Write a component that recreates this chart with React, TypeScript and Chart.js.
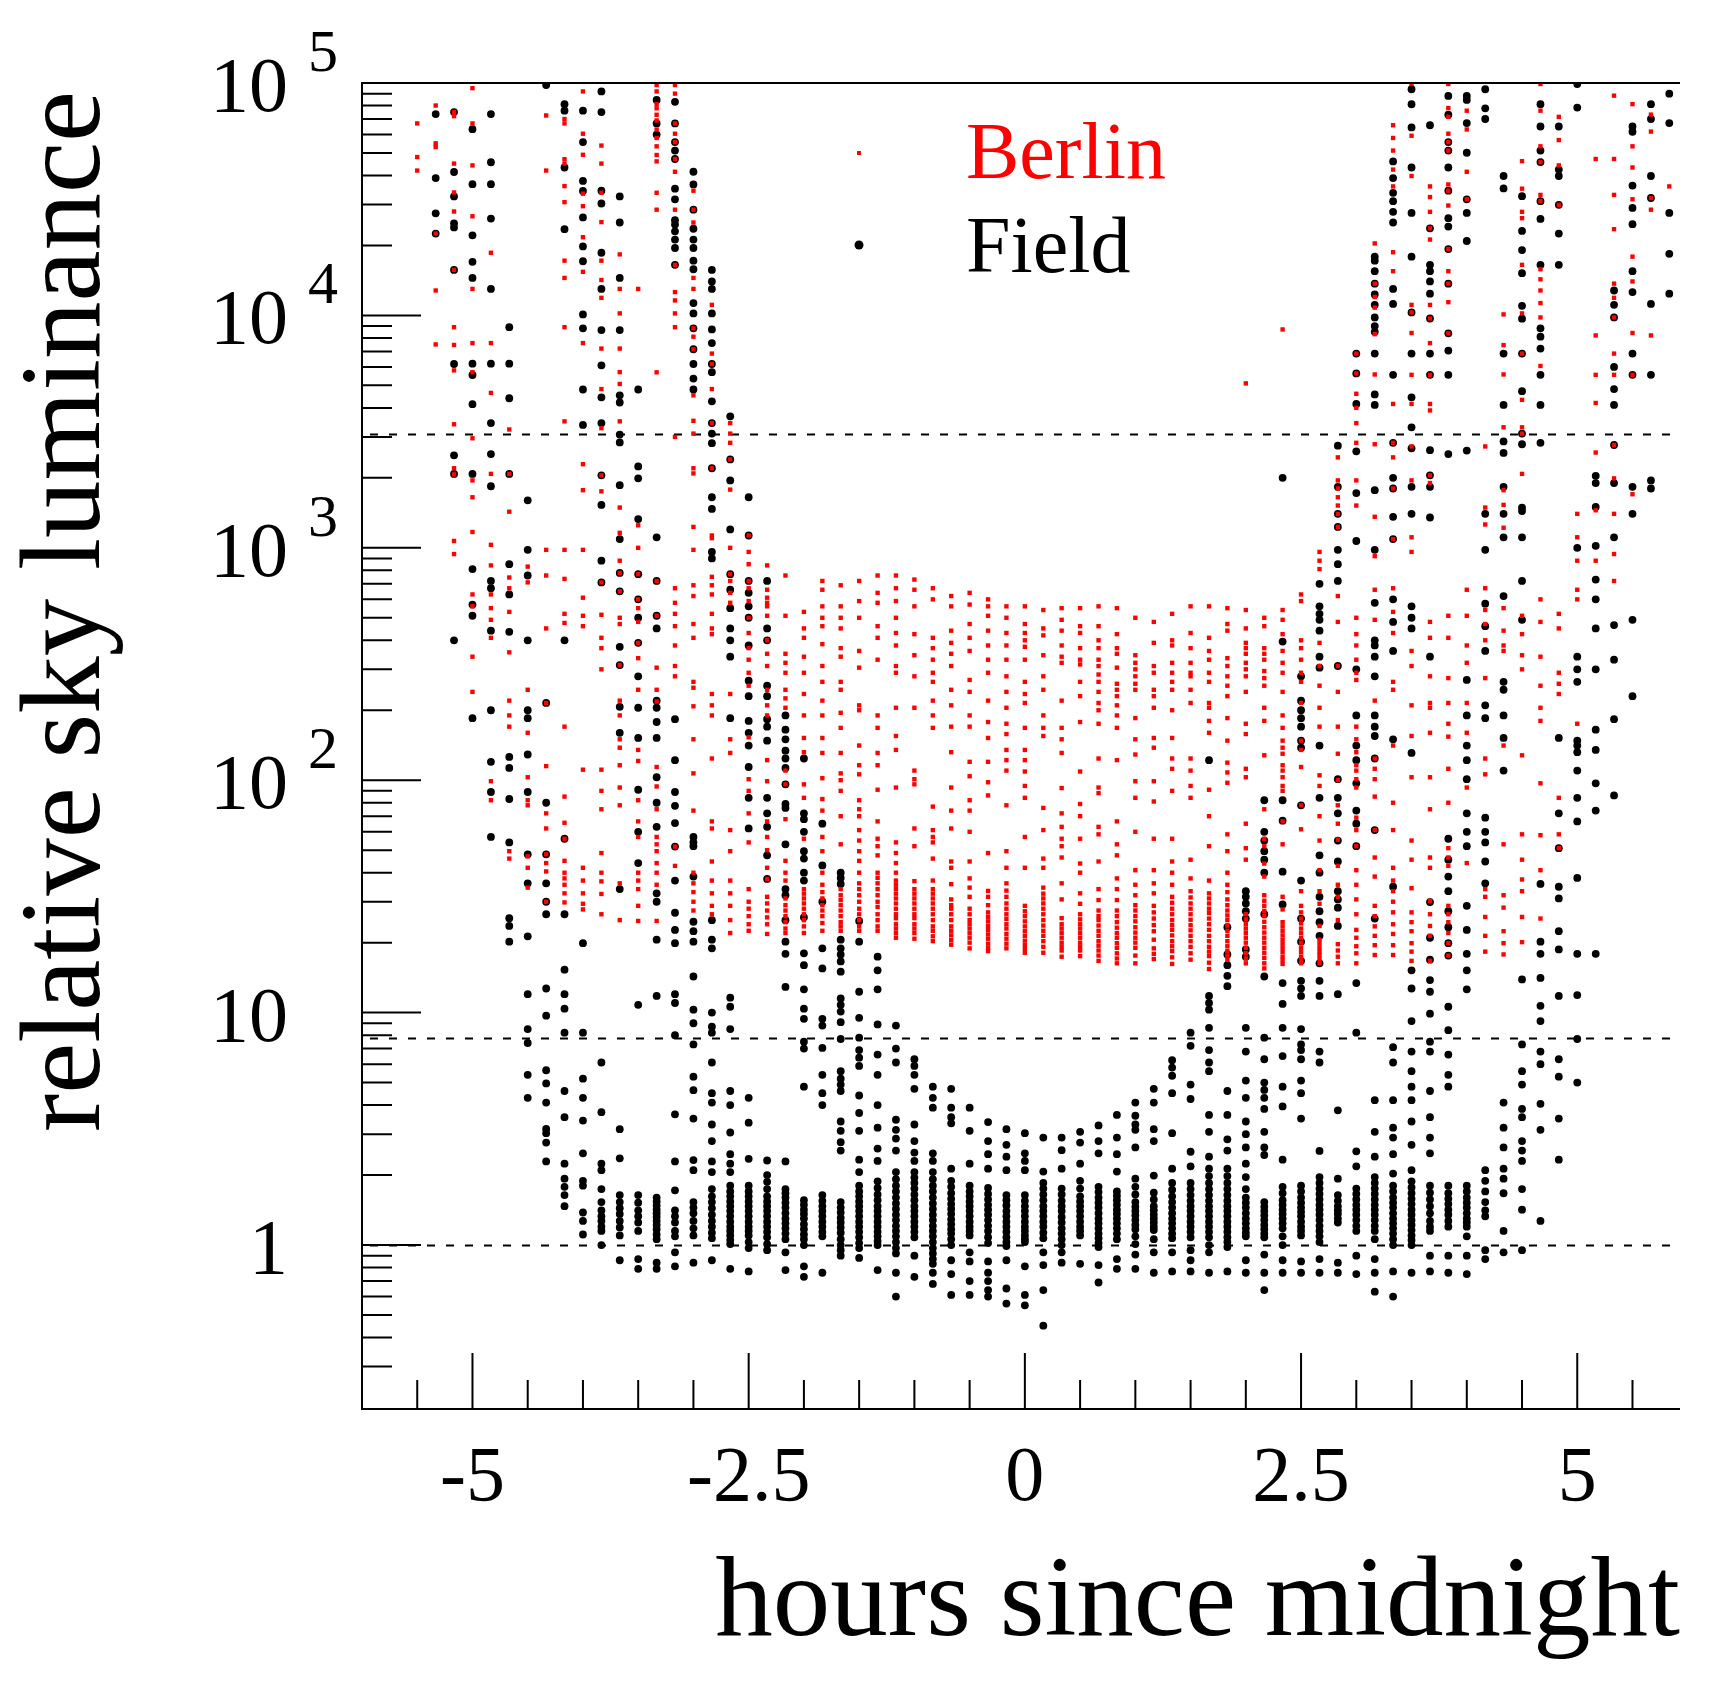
import React, { useEffect, useRef } from "react";
import { Chart, registerables } from "chart.js";

Chart.register(...registerables);

// column times (hours since midnight), one column every 10 minutes
const hours: number[] = [
  -5.833, -5.667, -5.5, -5.333, -5.167, -5, -4.833, -4.667, -4.5, -4.333, -4.167, -4,
  -3.833, -3.667, -3.5, -3.333, -3.167, -3, -2.833, -2.667, -2.5, -2.333, -2.167, -2,
  -1.833, -1.667, -1.5, -1.333, -1.167, -1, -0.833, -0.667, -0.5, -0.333, -0.167, 0,
  0.167, 0.333, 0.5, 0.667, 0.833, 1, 1.167, 1.333, 1.5, 1.667, 1.833, 2,
  2.167, 2.333, 2.5, 2.667, 2.833, 3, 3.167, 3.333, 3.5, 3.667, 3.833, 4,
  4.167, 4.333, 4.5, 4.667, 4.833, 5, 5.167, 5.333, 5.5, 5.667, 5.833,
];

// relative sky luminance values, per column
const berlin: number[][] = [
  [],
  [],
  [67000, 48000, 42000],
  [80000, 55000, 53000, 22500, 12800, 7500],
  [75000, 72000, 45000, 33800, 28000, 15700, 8900, 7460, 5800, 3400, 2200, 2070, 1070, 940],
  [95000, 67000, 44200, 26700, 13000, 7600, 5700, 2960, 1950, 1650, 1170, 630, 560, 340, 240],
  [18600, 7600, 4640, 2080, 1030, 840, 630, 550, 490, 410, 99, 82],
  [3230, 2080, 1430, 745, 670, 530, 355, 220, 190, 170, 49.5, 46],
  [830, 710, 245, 160, 103, 82, 78, 47, 42, 34.5],
  [72500, 42000, 980, 760, 450, 215, 115, 72, 62, 48, 44, 40.5, 30],
  [70000, 67000, 47000, 45000, 36000, 30700, 17200, 14500, 8900, 3500, 980, 735, 520, 475, 170, 85, 65.6, 56, 45, 40, 37.8, 35.5, 32.6, 29.8],
  [92000, 60500, 49100, 33400, 29500, 21700, 15400, 7600, 2290, 1770, 980, 610, 510, 460, 111, 42, 37, 32.6, 29.4, 27.8],
  [53800, 45000, 33700, 25200, 17200, 14200, 11900, 7200, 4820, 3270, 2050, 1750, 710, 515, 410, 370, 300, 111, 90, 75, 48.6, 40, 36.7, 32.4, 26.5],
  [18300, 13000, 10200, 7200, 5700, 5070, 3500, 1490, 1160, 880, 780, 650, 500, 470, 313, 220, 190, 150, 138, 116, 93, 78, 36, 25],
  [13000, 1250, 1000, 770, 600, 550, 480, 390, 335, 245, 135, 121, 82, 66.5, 57, 40, 37, 34, 28.8, 24.8],
  [98000, 92000, 81000, 77800, 73000, 69000, 63000, 58000, 53400, 49000, 46000, 33700, 28500, 5690, 720, 510, 305, 245, 218, 114, 94, 75, 57, 53, 49.5, 44, 40, 35.5, 24.8],
  [98000, 90000, 67000, 60500, 55700, 47100, 41500, 28500, 16500, 12600, 11600, 10200, 8900, 3000, 670, 580, 520, 460, 380, 310, 280, 51.8, 42.8],
  [34400, 28500, 25100, 14500, 13000, 8800, 8100, 7150, 4530, 3520, 3100, 2200, 2090, 1230, 980, 690, 620, 470, 410, 265, 250, 208, 150, 107, 74, 40, 36, 33, 30, 27.5],
  [11100, 6850, 6180, 4820, 3440, 2200, 1130, 1100, 750, 690, 630, 520, 450, 425, 235, 210, 190, 124, 66.5, 62, 44.7, 37, 32.6, 28.8, 26.5],
  [3440, 3100, 2830, 2400, 1780, 1000, 770, 720, 640, 580, 235, 150, 131, 61, 49.5, 37, 32.6, 28.8, 25, 22],
  [1130, 960, 850, 720, 670, 590, 500, 430, 370, 330, 290, 255, 153, 101, 90, 72, 54, 34, 30, 28, 26, 24, 22.5],
  [840, 660, 610, 580, 560, 510, 400, 350, 310, 245, 210, 190, 122, 99, 66.5, 57, 50, 42, 37.6, 31.5, 29.5, 27.5, 25.7, 24, 21.8],
  [760, 510, 350, 320, 290, 245, 225, 205, 110, 96, 68, 45, 40, 37, 31, 29, 27.5, 26, 24.5, 23, 22],
  [530, 450, 410, 340, 290, 235, 190, 152, 132, 96, 84, 56, 34, 32.5, 31, 29.5, 28, 26.5, 25, 23.5, 22],
  [720, 660, 560, 500, 460, 385, 310, 265, 220, 190, 152, 131, 102, 83, 74, 57, 49.5, 40, 35.5, 33, 31, 29, 27.5, 26, 24.3, 22.5],
  [690, 560, 500, 450, 370, 340, 265, 245, 195, 168, 131, 107, 100, 90, 70, 53, 34, 32, 30.5, 29, 27.5, 26, 24.5, 23.5, 22.5],
  [720, 590, 500, 360, 305, 210, 200, 141, 116, 106, 82, 75, 70, 61, 55, 49.5, 45, 40, 36, 34, 32, 30, 28, 26.5, 25, 23.5, 22.5],
  [760, 640, 580, 460, 410, 330, 190, 168, 131, 116, 91, 66.5, 56, 52, 47.5, 40, 38, 36, 34, 32, 30, 28.5, 26.5, 25, 23.5, 22.5],
  [760, 670, 590, 500, 430, 380, 310, 290, 205, 155, 135, 93, 54, 48.6, 44, 40, 37, 35.5, 34, 32.5, 31, 29.5, 28, 26.5, 25.5, 24, 23, 22, 21],
  [730, 660, 560, 425, 345, 280, 205, 110, 101, 96, 62, 52, 36.8, 34, 32.5, 31, 29.5, 28, 26.5, 25.5, 24, 23, 22, 20.8],
  [670, 600, 410, 370, 330, 290, 265, 220, 190, 168, 77, 61, 57, 54, 46, 37, 34, 32.5, 31, 29.5, 28, 26.5, 25, 23.5, 22.5, 21.3, 20.3],
  [620, 560, 440, 390, 350, 310, 245, 210, 170, 132, 93, 74, 62, 44.7, 42, 35.7, 30.7, 29, 28, 26.5, 25, 23.5, 22.5, 21.5, 20.5, 19.6],
  [640, 570, 470, 410, 360, 270, 240, 190, 170, 120, 104, 82, 74, 60, 44.7, 37.8, 34.5, 31.5, 28, 26.5, 25, 24, 23, 22, 21, 20, 18.9],
  [600, 560, 510, 440, 380, 330, 290, 220, 178, 152, 120, 98, 86, 48.6, 33.4, 31.5, 29, 27, 25.8, 24.7, 23.6, 22.7, 21.7, 20.8, 19.8, 19, 18.4],
  [560, 500, 430, 380, 330, 280, 240, 205, 175, 158, 135, 122, 110, 78, 49.5, 42, 36, 33.5, 31.5, 29.5, 28, 26.5, 25.3, 24, 23, 21.8, 20.8, 19.8, 18.9],
  [560, 470, 430, 400, 375, 330, 265, 235, 215, 168, 135, 122, 109, 94.5, 84, 57, 42, 28.8, 27.3, 26, 24.7, 23.5, 22.4, 21.4, 20.4, 19.5, 18.8, 18.1],
  [540, 450, 420, 345, 280, 245, 190, 168, 155, 76, 61, 46, 42, 34.5, 32.5, 31, 29.5, 28, 26.5, 25, 23.7, 22.5, 21.4, 20.3, 19.2, 18.1],
  [550, 490, 440, 380, 340, 320, 220, 168, 150, 131, 92.5, 72, 63, 56, 52, 46.5, 36, 30.7, 25.5, 24, 23, 22, 21, 20, 19.2, 18.5, 17.4],
  [550, 460, 430, 370, 330, 315, 265, 230, 178, 109, 79, 70, 56, 43.8, 40, 32.6, 29.4, 26.5, 25.2, 24, 23, 22, 21, 20, 19.2, 18.5, 17.5],
  [560, 460, 400, 370, 330, 310, 285, 265, 240, 215, 200, 175, 124, 93, 88, 63, 58.5, 44.7, 34, 30.5, 27.5, 26, 25, 23.7, 22.5, 21.4, 20.3, 19.4, 18.5, 17.6, 16.7],
  [550, 425, 370, 350, 305, 260, 245, 230, 210, 190, 168, 122, 66.5, 53, 47.5, 37.8, 34, 30.5, 27.5, 26, 24.5, 23.2, 22, 21, 19.9, 19, 18, 17.1, 16.3],
  [500, 345, 320, 300, 280, 260, 245, 185, 150, 129, 99, 84, 60, 41, 35.5, 32, 29, 27.5, 26, 24.7, 23.3, 22.1, 21, 20, 19, 17.6, 16.3],
  [480, 390, 310, 290, 245, 230, 205, 152, 138, 99, 81, 56, 41, 36, 32.6, 28.8, 27, 25.4, 23.8, 22.4, 20.6, 18.9, 17.9, 17],
  [520, 400, 380, 320, 290, 265, 245, 200, 152, 124, 112, 90, 56, 44.7, 40, 35.5, 31.5, 29.7, 28, 26.5, 25, 23.8, 22.7, 21.5, 20.3, 19.3, 18.4, 17.3, 16.2],
  [560, 430, 370, 320, 290, 280, 245, 215, 124, 110, 94.5, 84, 45.5, 37.8, 33.3, 31.3, 29.5, 28, 26.5, 25.1, 23.8, 22.6, 21.4, 20.3, 19.2, 18, 16.9],
  [560, 410, 360, 330, 290, 265, 215, 205, 180, 160, 91, 70, 52, 37, 32.6, 31, 29.5, 28, 26.8, 25.4, 24, 22.7, 21.4, 20.3, 19.2, 18.3, 17.5, 16.4, 15.4],
  [550, 470, 440, 335, 310, 280, 255, 230, 185, 148, 119, 108, 97.5, 58.5, 49.5, 40, 35.5, 33, 30.7, 29, 27.5, 26.2, 25, 23.7, 22.5, 21.4, 20.3, 19.3, 18.4, 17.6, 16.9],
  [5100, 540, 450, 390, 370, 350, 320, 300, 280, 240, 175, 158, 112, 103, 65, 51, 45.5, 26.5, 25.2, 24, 23, 22, 21, 20, 19, 18, 17.1, 16.3],
  [500, 460, 370, 350, 330, 295, 275, 255, 205, 180, 128, 75, 56, 52, 43.8, 38.5, 32, 30.3, 28.8, 27.4, 26, 24.6, 23.3, 22.1, 21, 20, 19, 18.1, 17.2, 16.3, 15.5],
  [8700, 540, 490, 425, 360, 320, 290, 240, 190, 168, 148, 138, 130, 116, 110, 103, 94.5, 90, 66.5, 53, 31.5, 27.8, 24.5, 23.5, 22.5, 21.5, 20.6, 19.8, 19, 18.2, 17.4, 16.8, 16.2],
  [630, 590, 400, 370, 330, 290, 265, 215, 148, 135, 114, 78, 61.5, 33.3, 28.8, 27, 25.4, 24.2, 23, 22, 21, 20, 19, 18.2, 17.4, 16.8, 16.3],
  [960, 880, 810, 390, 310, 255, 205, 170, 105, 94.5, 70, 55, 41, 33.3, 29.4, 23.6, 20.6, 19.8, 19, 18.3, 17.7, 17, 16.3],
  [2450, 1950, 1800, 1650, 1520, 1400, 1230, 620, 480, 310, 240, 170, 130, 100, 78, 65, 55.5, 42.8, 35.5, 31.5, 25, 19.7, 18.5, 17.4, 16.3],
  [6850, 5630, 4600, 4000, 3440, 2830, 1950, 1520, 500, 425, 380, 330, 290, 270, 170, 150, 132, 116, 110, 101, 93, 69, 61, 52, 41, 35.5, 30.7, 26.5, 22.7, 21, 19.3, 18, 16.3],
  [20400, 13700, 12000, 10800, 8300, 5570, 2790, 1360, 920, 660, 490, 220, 124, 112, 101, 85, 61, 46.5, 38.5, 28.8, 26, 23.5, 21.4, 19.5, 17.7],
  [65800, 58000, 51200, 42400, 35900, 18700, 15500, 4160, 2830, 2450, 1800, 1090, 670, 530, 430, 265, 245, 141, 80, 61, 42, 37, 33.3, 30, 27, 24, 21.8, 19.5, 17.7],
  [99000, 59300, 39800, 11100, 10300, 8400, 5550, 4160, 2730, 1950, 1110, 960, 360, 310, 210, 155, 103, 55, 45.5, 34.3, 27, 24.5, 22.4, 19.9, 18.3, 16.7],
  [35900, 32300, 27900, 23700, 21200, 11100, 9700, 7600, 5550, 4160, 3900, 2050, 1900, 480, 410, 280, 215, 205, 160, 103, 75, 46.5, 42, 30.3, 26.5, 23.6, 21.4, 16.7],
  [99000, 78000, 71500, 60500, 55700, 51200, 36600, 34400, 29700, 19300, 15500, 13700, 11400, 8370, 510, 410, 275, 215, 175, 154, 112, 80, 51, 46.5, 42.8, 28.8, 26.5, 24.5, 22, 19.9, 17.6],
  [76000, 63100, 41500, 31600, 660, 510, 380, 320, 215, 160, 93, 44],
  [2730, 1490, 1260, 670, 540, 470, 400, 275, 124, 106, 34, 31.5, 25.8, 21.4, 18.3],
  [10100, 7450, 5570, 3300, 1770, 1530, 1220, 550, 440, 380, 360, 141, 53, 32, 28.3, 22.4, 19.9, 17.8],
  [46100, 35100, 27900, 26200, 16500, 10200, 6850, 4330, 3300, 3100, 2080, 510, 425, 345, 300, 128, 58.5, 45.5, 37.4, 33.3, 25.8, 20.1],
  [99000, 76000, 53400, 45700, 33000, 31000, 15800, 14300, 12800, 11300, 9800, 6060, 600, 480, 340, 255, 205, 180, 97, 58, 41, 25.4],
  [71500, 56800, 44200, 29900, 520, 450, 290, 260, 235, 84, 58.5, 51],
  [1400, 1110, 880, 660, 600, 175],
  [47100, 8200, 5550, 4200, 2570, 1450, 880],
  [88200, 47100, 33000, 23500, 13700, 11900, 9800, 6850, 5550, 2770, 1990, 1400, 940, 720],
  [81100, 53400, 43300, 31600, 17900, 14000, 8400, 5550, 1700],
  [73100, 61800, 32000, 28500, 8200],
  [35900],
];

const field: number[][] = [
  [],
  [],
  [],
  [73500, 39000, 27500, 22500],
  [75000, 41400, 32500, 24900, 23900, 15700, 6180, 2500, 2080, 400],
  [63300, 36700, 22100, 17000, 14500, 6200, 5540, 4150, 2080, 810, 570, 510, 185],
  [73500, 45600, 36700, 26100, 13000, 6200, 3440, 2530, 1840, 720, 670, 440, 200, 120, 89, 57],
  [8900, 6200, 4400, 2080, 850, 630, 435, 126, 113, 83, 54, 25.5, 23.6, 20.2],
  [1600, 980, 760, 400, 200, 185, 129, 89, 48, 36, 21.3, 12, 8.5, 7.4, 5.4, 4.3],
  [98000, 215, 80, 48, 36, 30, 26.5, 12.7, 9.7, 5.65, 4.96, 4.1, 3.16, 3.03, 2.76, 2.29],
  [81000, 76000, 43300, 23500, 400, 56, 26.5, 15.3, 12, 10.4, 8.2, 4.6, 3.55, 2.24, 1.93, 1.78, 1.64, 1.47],
  [76000, 55700, 37900, 34300, 26400, 19800, 17100, 10100, 8800, 4800, 3380, 19.9, 8.2, 5.2, 4.3, 3.43, 2.48, 1.89, 1.8, 1.38, 1.27, 1.11],
  [92000, 75000, 34400, 30300, 18600, 13000, 8650, 6100, 4440, 3440, 2050, 1530, 880, 710, 6.1, 3.73, 2.24, 2.1, 1.74, 1.53, 1.41, 1.33, 1.27, 1.2, 1.15, 1.0],
  [32500, 25100, 14500, 8650, 4530, 4220, 3070, 2840, 1860, 1090, 780, 650, 375, 313, 207, 160, 34, 3.15, 2.36, 1.64, 1.53, 1.44, 1.36, 1.27, 1.19, 1.1, 0.86],
  [4800, 2240, 1990, 1330, 770, 600, 500, 390, 280, 205, 152, 91, 60, 44, 10.8, 1.64, 1.52, 1.41, 1.33, 1.25, 1.15, 0.87, 0.79],
  [84600, 67000, 60000, 1110, 720, 510, 450, 220, 205, 178, 152, 103, 80, 63, 32.6, 30, 20.6, 11.8, 1.6, 1.54, 1.48, 1.42, 1.37, 1.32, 1.27, 1.22, 1.17, 1.11, 1.06, 0.84, 0.79],
  [83000, 67000, 55700, 51200, 47100, 35100, 31600, 25700, 24600, 23000, 21200, 19500, 16500, 183, 122, 89, 77.6, 65.4, 51.8, 37, 26.9, 22.7, 19.9, 12, 11, 8.0, 3.65, 2.29, 1.72, 1.41, 1.33, 1.25, 1.15, 1.09, 0.93, 0.81],
  [41500, 36600, 28500, 23600, 21200, 19500, 17200, 15800, 11300, 10200, 8800, 7150, 6180, 5350, 4800, 57, 54, 52, 38.5, 24.6, 22.4, 20.2, 14.3, 10.3, 9.0, 7.3, 5.3, 4.64, 3.5, 2.32, 2.1, 1.53, 1.45, 1.37, 1.27, 1.18, 1.1, 0.84],
  [15700, 14000, 13000, 10200, 8700, 7600, 6180, 5700, 4270, 3440, 3100, 2820, 2200, 1650, 1470, 960, 900, 25, 20.6, 18.9, 10, 8.7, 8.2, 6.1, 4.5, 4.1, 3.3, 2.8, 2.29, 2.06, 1.74, 1.62, 1.53, 1.44, 1.35, 1.27, 1.2, 1.13, 1.07, 0.86],
  [3680, 2400, 1950, 1200, 770, 660, 550, 450, 400, 340, 185, 11.6, 10.6, 8.5, 4.6, 4.0, 3.05, 2.46, 2.24, 2.06, 1.8, 1.7, 1.62, 1.54, 1.47, 1.4, 1.33, 1.26, 1.2, 1.15, 1.1, 1.05, 1.01, 0.79],
  [1650, 1130, 720, 640, 560, 500, 380, 268, 230, 180, 160, 141, 114, 84, 62, 4.3, 3.36, 2.35, 1.8, 1.7, 1.62, 1.54, 1.47, 1.4, 1.33, 1.26, 1.2, 1.15, 1.1, 1.03, 0.97, 0.77],
  [720, 450, 400, 255, 230, 183, 170, 148, 84, 72, 63, 47.5, 37.6, 2.31, 2.0, 1.87, 1.74, 1.62, 1.54, 1.47, 1.4, 1.33, 1.26, 1.2, 1.14, 1.08, 1.01, 0.95],
  [190, 165, 150, 134, 124, 113, 96, 79, 76, 53, 34, 32, 25, 20.2, 17.9, 12.9, 2.29, 1.74, 1.67, 1.6, 1.52, 1.45, 1.37, 1.3, 1.24, 1.18, 1.12, 1.06, 0.93, 0.78],
  [124, 72, 68, 60, 49.5, 46, 40, 37, 25.7, 18, 16, 12.6, 10.4, 9.4, 7.5, 7.0, 4.8, 1.56, 1.49, 1.42, 1.36, 1.3, 1.23, 1.17, 1.11, 1.06, 1.0, 0.81, 0.73],
  [65, 43, 30, 18.9, 15.5, 9.4, 8.8, 7.05, 5.4, 4.5, 4.0, 1.64, 1.55, 1.47, 1.4, 1.33, 1.26, 1.2, 1.14, 1.09, 0.76],
  [40, 38, 35.8, 20.6, 18.9, 17.8, 16.6, 15, 11.5, 10.8, 10.1, 9.1, 7.7, 5.6, 5.2, 4.9, 4.6, 3.4, 3.1, 2.77, 2.55, 1.53, 1.45, 1.38, 1.31, 1.25, 1.19, 1.13, 1.06, 1.0, 0.95, 0.9],
  [24.8, 20.2, 12.3, 9.5, 7.8, 6.9, 6.4, 5.9, 4.4, 3.7, 3.1, 2.33, 2.06, 1.8, 1.7, 1.62, 1.54, 1.47, 1.4, 1.33, 1.26, 1.2, 1.14, 1.08, 1.02, 0.97, 0.88],
  [17.4, 15.2, 12.6, 8.9, 6.6, 5.4, 4.0, 3.2, 2.6, 2.3, 1.88, 1.76, 1.65, 1.56, 1.47, 1.4, 1.33, 1.26, 1.2, 1.14, 1.09, 1.04, 1.0, 0.78],
  [8.8, 7.0, 6.1, 3.46, 3.13, 2.87, 2.55, 2.06, 1.92, 1.8, 1.7, 1.6, 1.51, 1.43, 1.35, 1.28, 1.21, 1.15, 1.09, 1.03, 0.97, 0.92, 0.76, 0.6],
  [6.3, 5.9, 5.4, 4.7, 3.3, 2.8, 2.5, 2.3, 2.06, 1.95, 1.85, 1.75, 1.65, 1.56, 1.47, 1.4, 1.33, 1.26, 1.2, 1.14, 1.08, 0.9, 0.73],
  [4.8, 4.3, 3.9, 2.48, 2.3, 2.06, 1.92, 1.8, 1.7, 1.6, 1.51, 1.43, 1.35, 1.28, 1.21, 1.15, 1.09, 1.03, 0.97, 0.92, 0.87, 0.83, 0.76, 0.68],
  [4.7, 3.9, 3.55, 3.34, 2.13, 1.89, 1.78, 1.67, 1.58, 1.5, 1.43, 1.36, 1.29, 1.23, 1.17, 1.12, 1.06, 1.0, 0.86, 0.75, 0.61],
  [3.9, 3.1, 2.24, 1.8, 1.7, 1.62, 1.54, 1.47, 1.4, 1.33, 1.26, 1.2, 1.15, 1.1, 0.93, 0.85, 0.7, 0.61],
  [3.38, 2.8, 2.46, 2.13, 1.76, 1.66, 1.57, 1.49, 1.42, 1.35, 1.28, 1.21, 1.15, 1.08, 1.02, 0.85, 0.76, 0.7, 0.64, 0.6],
  [3.15, 2.7, 2.4, 2.1, 1.64, 1.56, 1.48, 1.4, 1.33, 1.26, 1.2, 1.14, 1.08, 1.03, 0.99, 0.86, 0.65, 0.56],
  [3.03, 2.48, 2.3, 2.1, 1.64, 1.55, 1.47, 1.4, 1.33, 1.26, 1.2, 1.15, 1.1, 1.06, 1.03, 0.81, 0.61, 0.55],
  [2.9, 2.07, 1.85, 1.75, 1.65, 1.56, 1.47, 1.4, 1.33, 1.26, 1.2, 1.13, 1.07, 0.93, 0.82, 0.64, 0.45],
  [2.9, 2.56, 2.13, 1.75, 1.65, 1.55, 1.47, 1.4, 1.32, 1.25, 1.18, 1.12, 1.06, 1.0, 0.93, 0.84],
  [3.07, 2.76, 2.24, 1.89, 1.75, 1.62, 1.54, 1.47, 1.4, 1.33, 1.26, 1.2, 1.15, 1.1, 0.83],
  [3.27, 2.8, 2.48, 1.78, 1.69, 1.6, 1.52, 1.45, 1.37, 1.3, 1.24, 1.18, 1.12, 1.07, 1.02, 0.98, 0.82, 0.69],
  [3.63, 2.9, 2.46, 2.07, 1.7, 1.63, 1.56, 1.49, 1.42, 1.36, 1.3, 1.24, 1.18, 1.12, 1.06, 0.87, 0.79],
  [4.1, 3.6, 3.3, 3.13, 2.63, 1.93, 1.78, 1.65, 1.53, 1.46, 1.4, 1.34, 1.28, 1.22, 1.17, 1.09, 1.01, 0.91, 0.79],
  [4.7, 4.1, 3.15, 2.8, 1.99, 1.68, 1.57, 1.47, 1.41, 1.35, 1.3, 1.25, 1.2, 1.16, 1.06, 0.93, 0.76],
  [6.24, 5.8, 5.35, 4.5, 3.03, 2.13, 1.85, 1.73, 1.62, 1.53, 1.45, 1.37, 1.3, 1.24, 1.18, 1.12, 1.07, 0.93, 0.77],
  [8.2, 7.2, 4.9, 4.25, 2.52, 2.18, 1.85, 1.74, 1.64, 1.55, 1.47, 1.4, 1.33, 1.26, 1.2, 1.14, 1.08, 0.95, 0.86, 0.77],
  [122, 11.8, 11, 10.3, 8.6, 6.9, 6.1, 5.6, 3.63, 3.07, 2.4, 2.13, 1.98, 1.85, 1.74, 1.64, 1.55, 1.47, 1.4, 1.33, 1.26, 1.2, 1.14, 1.08, 1.0, 0.93, 0.76],
  [23.3, 17.8, 16, 14.4, 13, 4.6, 3.63, 2.85, 2.55, 2.13, 1.98, 1.85, 1.74, 1.64, 1.55, 1.47, 1.4, 1.33, 1.26, 1.2, 1.14, 1.08, 1.03, 0.98, 0.77],
  [33.3, 31.5, 29.5, 27.3, 25.4, 18.7, 17.4, 8.6, 6.8, 5.1, 4.3, 3.4, 3.0, 2.63, 2.24, 1.96, 1.74, 1.6, 1.52, 1.45, 1.37, 1.3, 1.24, 1.18, 1.13, 1.09, 0.86, 0.76],
  [82, 60, 55, 49.5, 45.5, 40, 26.5, 14.3, 7.8, 6.3, 5.0, 4.65, 4.3, 3.85, 3.07, 2.63, 2.44, 1.53, 1.46, 1.4, 1.34, 1.28, 1.22, 1.17, 1.12, 1.08, 0.91, 0.76, 0.64],
  [2000, 395, 82, 67, 40.4, 29.2, 13.4, 10.9, 8.6, 6.5, 4.8, 3.95, 2.33, 1.78, 1.67, 1.56, 1.49, 1.42, 1.36, 1.3, 1.24, 1.18, 1.09, 1.0, 0.86, 0.76],
  [280, 220, 200, 185, 170, 148, 138, 78, 37, 25.4, 20.2, 16.7, 13.7, 12.7, 11.8, 8.5, 7.3, 6.9, 6.3, 5.1, 4.5, 3.5, 1.8, 1.7, 1.6, 1.52, 1.45, 1.39, 1.33, 1.26, 1.2, 1.15, 1.1, 0.85, 0.76],
  [700, 560, 520, 490, 440, 340, 305, 141, 84, 47.5, 40, 31.5, 27.3, 24.5, 21.4, 16.3, 13.7, 11.8, 6.8, 6.1, 2.54, 1.96, 1.85, 1.75, 1.66, 1.57, 1.49, 1.42, 1.35, 1.28, 1.21, 1.15, 1.09, 1.03, 0.87, 0.76],
  [2750, 1830, 1400, 1230, 980, 850, 720, 310, 101, 84, 72, 55, 44.7, 33.3, 30.7, 28.3, 23.6, 12, 3.8, 1.93, 1.64, 1.55, 1.47, 1.41, 1.36, 1.3, 1.25, 0.84, 0.76],
  [6850, 5630, 4160, 2600, 1720, 1070, 300, 190, 141, 122, 97, 74, 65, 52, 13.4, 8.2, 2.53, 2.18, 1.75, 1.66, 1.57, 1.49, 1.42, 1.35, 1.28, 1.21, 1.15, 0.9, 0.75],
  [17900, 17200, 15500, 13700, 12300, 11100, 9800, 9000, 8500, 6850, 4570, 4120, 1770, 980, 580, 400, 380, 340, 280, 190, 170, 155, 124, 61, 25.4, 4.2, 3.07, 2.4, 1.96, 1.85, 1.75, 1.66, 1.57, 1.49, 1.42, 1.35, 1.28, 1.21, 1.15, 1.06, 0.87, 0.76, 0.63],
  [46000, 39000, 33700, 31000, 27900, 25100, 13000, 11200, 5550, 2830, 2000, 1800, 1360, 1090, 600, 480, 360, 150, 34.8, 7.1, 6.1, 4.2, 3.2, 2.9, 2.46, 2.03, 1.8, 1.7, 1.6, 1.52, 1.45, 1.37, 1.3, 1.24, 1.18, 1.12, 1.06, 1.0, 0.77, 0.6],
  [94000, 81000, 64400, 43300, 27600, 17900, 10300, 6850, 4440, 3300, 2680, 1830, 1400, 560, 500, 450, 131, 15.2, 12.7, 9.2, 6.8, 5.6, 4.8, 4.2, 3.4, 2.7, 2.1, 1.88, 1.77, 1.67, 1.58, 1.5, 1.42, 1.35, 1.28, 1.22, 1.16, 1.1, 1.05, 1.0, 0.76],
  [65800, 23700, 16500, 15500, 14000, 12400, 9700, 6850, 5550, 2630, 2050, 1830, 1350, 340, 29.9, 21, 16.9, 13.8, 12.3, 9.9, 7.5, 6.8, 4.6, 3.55, 2.9, 2.48, 1.8, 1.68, 1.57, 1.47, 1.37, 1.27, 1.2, 1.15, 0.9, 0.77],
  [88000, 73000, 55700, 51200, 43300, 34400, 26200, 24100, 19300, 13700, 8370, 7060, 5550, 2530, 56, 45.5, 38.5, 33.3, 27.3, 23.3, 19.9, 17.6, 10.6, 8.4, 6.6, 5.4, 4.8, 1.8, 1.67, 1.58, 1.5, 1.42, 1.35, 1.27, 1.2, 0.9, 0.76],
  [88000, 84600, 67200, 50100, 31600, 27600, 20900, 2620, 270, 190, 141, 122, 101, 72, 60, 52, 28.8, 22.7, 17.9, 15.2, 12.6, 1.8, 1.7, 1.6, 1.52, 1.45, 1.37, 1.3, 1.25, 1.2, 1.09, 0.9, 0.75],
  [94000, 77800, 70000, 1400, 980, 575, 460, 360, 210, 185, 69, 60, 54, 44.7, 36, 2.1, 1.89, 1.7, 1.53, 1.41, 1.33, 0.95, 0.87],
  [39800, 35200, 6850, 4120, 2870, 2560, 1830, 1400, 1110, 620, 265, 245, 190, 152, 110, 4.1, 3.2, 2.63, 2.13, 1.93, 1.67, 1.15, 0.93],
  [32600, 23100, 19100, 15200, 11000, 9680, 6850, 4720, 3100, 2790, 1490, 1440, 1110, 720, 490, 13.9, 7.3, 5.6, 4.9, 3.85, 3.55, 2.8, 2.55, 2.3, 1.74, 1.42, 0.95],
  [81000, 65000, 51200, 45700, 31000, 26000, 16500, 8800, 8100, 7200, 5550, 4120, 2830, 35.8, 20.2, 17.9, 14.1, 10.7, 9.2, 6.8, 6.0, 4.05, 3.13, 1.27],
  [65000, 42400, 39800, 29900, 22500, 16500, 152, 72, 51, 34.8, 31, 22.4, 18.7, 11.8, 6.3, 5.3, 3.5, 2.33],
  [99000, 78400, 1000, 340, 300, 265, 148, 141, 132, 110, 84, 66.5, 38, 17.9, 11.9, 7.7, 5.0],
  [2040, 1900, 1500, 1020, 730, 600, 450, 300, 165, 135, 97, 74, 17.9],
  [12800, 11100, 9800, 6000, 4820, 4120, 2770, 1900, 1110, 465, 330, 183, 86],
  [65000, 61700, 36200, 29000, 24700, 15500, 12600, 6850, 5550, 1830, 1400, 490, 230],
  [81100, 70000, 39800, 32000, 11200, 5550, 1950, 1800],
  [90000, 67200, 27600, 18400, 12400],
];

const dashedLevels = [3100, 7.8, 1];
const xMajor = [-5, -2.5, 0, 2.5, 5];
const xLabels = ["-5", "-2.5", "0", "2.5", "5"];
const xMinor = [-5.5, -4.5, -4, -3.5, -3, -2, -1.5, -1, -0.5, 0.5, 1, 1.5, 2, 3, 3.5, 4, 4.5, 5.5];
const yDecades = [0, 1, 2, 3, 4, 5];
const seriesNames = ["Berlin", "Field"];

const SERIF = '"Liberation Serif", "DejaVu Serif", serif';

function toPoints(cols: number[][]) {
  const pts: { x: number; y: number }[] = [];
  cols.forEach((ys, i) => ys.forEach((y) => pts.push({ x: hours[i], y })));
  return pts;
}

const decorations = {
  id: "decorations",
  beforeDatasetsDraw(chart: any) {
    const { ctx, chartArea: a, scales } = chart;
    const y = scales.y;
    ctx.save();
    ctx.strokeStyle = "#000";
    ctx.lineWidth = 1.8;
    ctx.setLineDash([8, 11]);
    for (const v of dashedLevels) {
      const py = Math.round(y.getPixelForValue(v)) + 0.5;
      ctx.beginPath();
      ctx.moveTo(a.left + 8, py);
      ctx.lineTo(a.right, py);
      ctx.stroke();
    }
    ctx.restore();
  },
  afterDraw(chart: any) {
    const { ctx, chartArea: a, scales } = chart;
    const x = scales.x;
    const y = scales.y;
    ctx.save();
    ctx.setLineDash([]);
    ctx.strokeStyle = "#000";
    ctx.lineWidth = 2;
    // frame
    ctx.beginPath();
    ctx.moveTo(a.right, a.top);
    ctx.lineTo(a.left, a.top);
    ctx.lineTo(a.left, a.bottom);
    ctx.lineTo(a.right, a.bottom);
    ctx.stroke();
    // y ticks
    ctx.beginPath();
    for (const e of yDecades) {
      const py = y.getPixelForValue(Math.pow(10, e));
      ctx.moveTo(a.left, py);
      ctx.lineTo(a.left + 59, py);
    }
    for (let e = -1; e <= 4; e++) {
      for (let m = 2; m <= 9; m++) {
        const v = m * Math.pow(10, e);
        if (v < y.min || v > y.max) continue;
        const py = y.getPixelForValue(v);
        if (py > a.bottom - 8) continue;
        ctx.moveTo(a.left, py);
        ctx.lineTo(a.left + 30, py);
      }
    }
    // x ticks
    for (const v of xMajor) {
      const px = x.getPixelForValue(v);
      ctx.moveTo(px, a.bottom);
      ctx.lineTo(px, a.bottom - 56);
    }
    for (const v of xMinor) {
      const px = x.getPixelForValue(v);
      ctx.moveTo(px, a.bottom);
      ctx.lineTo(px, a.bottom - 29);
    }
    ctx.stroke();

    // tick labels
    ctx.fillStyle = "#000";
    ctx.textBaseline = "alphabetic";
    ctx.font = `78px ${SERIF}`;
    ctx.textAlign = "center";
    xMajor.forEach((v, i) => {
      ctx.fillText(xLabels[i], x.getPixelForValue(v), a.bottom + 91);
    });
    for (const e of yDecades) {
      const py = y.getPixelForValue(Math.pow(10, e));
      ctx.font = `78px ${SERIF}`;
      ctx.textAlign = "right";
      ctx.fillText(e === 0 ? "1" : "10", a.left - 74, py + 28);
      if (e >= 2) {
        ctx.font = `60px ${SERIF}`;
        ctx.textAlign = "left";
        ctx.fillText(String(e), a.left - 54, py - 12);
      }
    }

    // axis titles
    ctx.font = `115px ${SERIF}`;
    ctx.textAlign = "right";
    ctx.fillText("hours since midnight", a.right, a.bottom + 226);
    ctx.save();
    ctx.translate(a.left - 263, a.top + 1049);
    ctx.rotate(-Math.PI / 2);
    ctx.textAlign = "left";
    ctx.fillText("relative sky luminance", 0, 0);
    ctx.restore();

    // legend
    ctx.fillStyle = "#ff0000";
    ctx.fillRect(857, 151, 4, 4);
    ctx.font = `80px ${SERIF}`;
    ctx.textAlign = "left";
    ctx.fillText(seriesNames[0], 966, 178);
    ctx.fillStyle = "#000";
    ctx.beginPath();
    ctx.arc(859, 245, 4.5, 0, Math.PI * 2);
    ctx.fill();
    ctx.fillText(seriesNames[1], 966, 272);
    ctx.restore();
  },
};

export default function App() {
  const ref = useRef<HTMLCanvasElement | null>(null);
  useEffect(() => {
    if (!ref.current) return;
    const chart = new Chart(ref.current, {
      type: "scatter",
      data: {
        datasets: [
          {
            label: seriesNames[0],
            data: toPoints(berlin),
            backgroundColor: "#ff0000",
            borderWidth: 0,
            pointStyle: "rect",
            pointRadius: 3.1,
            pointHoverRadius: 3.1,
          },
          {
            label: seriesNames[1],
            data: toPoints(field),
            backgroundColor: "#000000",
            borderWidth: 0,
            pointStyle: "circle",
            pointRadius: 3.9,
            pointHoverRadius: 3.9,
          },
        ],
      },
      options: {
        responsive: false,
        animation: false,
        events: [],
        layout: { padding: { left: 362, right: 37, top: 83, bottom: 272 } },
        plugins: { legend: { display: false }, tooltip: { enabled: false } },
        scales: {
          x: { type: "linear", min: -6, max: 5.93, display: false },
          y: { type: "logarithmic", min: 0.197, max: 100000, display: false },
        },
      },
      plugins: [decorations],
    });
    return () => chart.destroy();
  }, []);
  return (
    <div style={{ position: "absolute", left: 0, top: 0, width: 1717, height: 1681, background: "#fff" }}>
      <canvas ref={ref} width={1717} height={1681} style={{ width: 1717, height: 1681, display: "block" }} />
    </div>
  );
}
